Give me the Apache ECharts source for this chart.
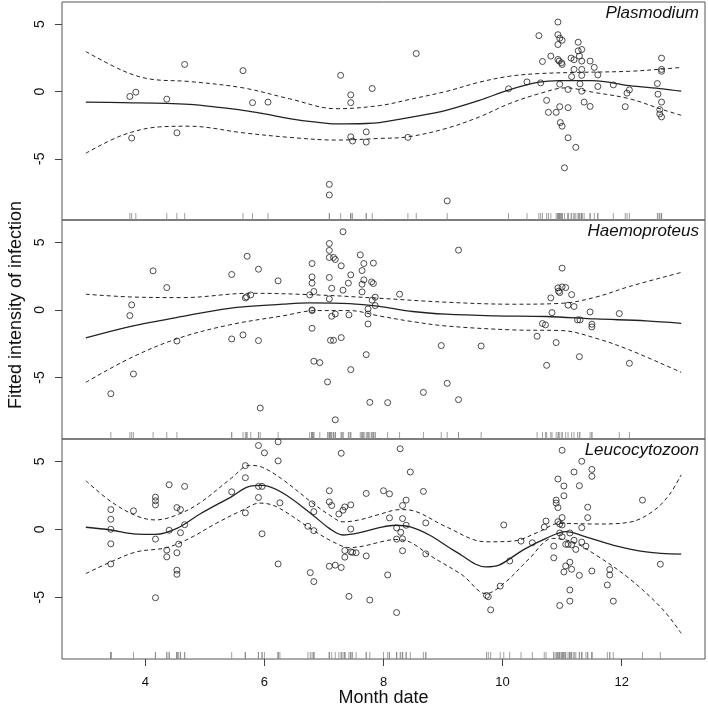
<!DOCTYPE html>
<html>
<head>
<meta charset="utf-8">
<script src="https://cdn.jsdelivr.net/npm/echarts@6/dist/echarts.min.js"></script>
<style>
html,body{margin:0;padding:0;background:#fff;}
#chart{width:708px;height:708px;}
</style>
</head>
<body>
<div id="chart"></div>
<script>
// ---------- data ----------
const panelNames = ['Plasmodium', 'Haemoproteus', 'Leucocytozoon'];
const xTicks = [4, 6, 8, 10, 12];
const yTicks = [-5, 0, 5];
const xLabel = 'Month date';
const yLabel = 'Fitted intensity of infection';

const plasPoints = [[3.74,-0.37],[3.84,-0.05],[3.77,-3.46],[4.36,-0.57],[4.66,2.01],[4.53,-3.07],[5.64,1.55],[5.80,-0.83],[6.06,-0.79],[7.09,-6.9],[7.09,-7.69],[7.28,1.2],[7.45,-0.25],[7.45,-0.83],[7.45,-3.37],[7.48,-3.68],[7.71,-3.0],[7.71,-3.76],[7.81,0.22],
[8.41,-3.41],[8.55,2.82],[9.07,-8.13],[10.10,0.2],[10.41,0.71],[10.61,4.15],[10.64,0.64],[10.67,2.23],[10.74,-0.66],[10.77,-1.55],[10.81,2.63],[10.90,-1.55],[10.93,5.16],[10.93,4.22],[10.93,3.49],[10.93,2.38],[10.95,2.26],[10.96,3.96],[11.0,3.81],[10.99,2.14],[11.0,2.01],[10.96,0.54],[10.96,-1.13],[10.97,-2.31],[11.0,-2.58],[11.04,-5.67],[11.10,0.15],[11.10,-1.2],[11.10,-3.44],[11.15,2.48],[11.20,2.36],[11.20,1.64],[11.16,1.1],[11.23,-4.15],[11.27,3.66],[11.27,3.02],[11.33,3.12],[11.29,2.63],[11.33,2.26],[11.33,1.64],[11.33,1.2],[11.30,0.57],[11.33,0.02],[11.37,-0.79],[11.47,-1.11],[11.47,2.26],[11.54,1.79],[11.60,1.23],[11.60,0.37],[11.86,0.49],[12.06,-1.13],[12.09,-0.12],[12.13,0.12],[12.60,0.59],[12.61,-0.2],[12.64,-1.35],[12.64,-1.67],[12.67,-1.89],[12.67,-0.79],[12.67,1.64],[12.67,1.5],[12.67,2.48]];
const plasFit = [[3.0,-0.79],[3.62,-0.83],[4.35,-0.88],[4.74,-0.96],[5.19,-1.16],[5.64,-1.40],[6.03,-1.69],[6.42,-2.01],[6.87,-2.28],[7.2,-2.41],[7.71,-2.38],[7.93,-2.31],[8.49,-1.89],[9.05,-1.4],[9.61,-0.66],[10.11,0.12],[10.61,0.69],[10.95,0.81],[11.51,0.81],[12.13,0.44],[12.69,0.2],[13.0,0.02]];
const plasUpper = [[3.0,2.97],[3.62,1.55],[4.07,0.93],[4.74,0.74],[5.64,0.27],[6.42,-0.54],[7.2,-1.28],[7.93,-1.05],[8.49,-0.54],[9.05,0.0],[9.61,0.69],[10.11,1.13],[10.61,1.33],[11.29,1.42],[12.13,1.5],[12.69,1.67],[13.0,1.79]];
const plasLower = [[3.0,-4.59],[3.62,-3.24],[4.24,-2.63],[4.74,-2.58],[5.64,-3.07],[6.42,-3.41],[7.2,-3.61],[7.93,-3.49],[8.41,-3.37],[9.05,-2.75],[9.61,-1.89],[10.11,-0.91],[10.61,-0.17],[11.06,0.27],[11.51,-0.05],[12.13,-0.54],[12.69,-1.35],[13.0,-1.77]];

const haemPoints = [[3.42,-6.2],[3.74,-0.42],[3.77,0.37],[3.80,-4.74],[4.13,2.89],[4.36,1.65],[4.53,-2.3],[5.45,2.62],[5.45,-2.15],[5.64,-1.85],[5.68,0.89],[5.70,0.96],[5.71,3.97],[5.77,1.11],[5.90,3.01],[5.90,-2.27],[5.93,-7.26],[6.23,2.15],[6.76,1.11],[6.80,3.43],[6.80,2.44],[6.80,1.98],[6.80,0.0],[6.80,-0.05],[6.80,-1.36],[6.83,1.36],[6.83,-3.8],[6.93,-3.9],[7.06,-5.33],[7.09,4.91],[7.09,4.4],[7.09,3.88],[7.09,2.4],[7.09,0.81],[7.13,-0.47],[7.13,1.6],[7.11,-2.25],[7.16,-2.25],[7.16,3.88],[7.19,3.73],[7.19,-0.3],[7.19,-8.13],[7.29,3.26],[7.29,-2.05],[7.32,5.78],[7.32,1.46],[7.41,1.98],[7.42,-0.37],[7.45,2.59],[7.45,-4.42],[7.61,4.07],[7.64,2.91],[7.64,1.9],[7.64,1.33],[7.67,3.43],[7.67,2.22],[7.71,-3.31],[7.74,0.07],[7.74,-0.3],[7.74,-1.04],[7.77,-6.84],[7.80,2.07],[7.83,3.46],[7.83,1.95],[7.81,0.72],[7.86,0.94],[7.86,0.32],
[8.07,-6.86],[8.27,1.16],[8.67,-6.1],[8.97,-2.64],[9.07,-5.43],[9.26,4.42],[9.26,-6.64],[9.64,-2.67],[10.58,-1.95],[10.67,-1.01],[10.72,-1.11],[10.74,-4.1],[10.81,0.89],[10.83,-0.2],[10.90,-2.42],[10.93,1.63],[10.94,1.38],[10.96,1.28],[11.0,3.09],[11.0,1.7],[11.06,1.65],[11.10,0.35],[11.16,1.13],[11.20,0.25],[11.26,-0.74],[11.30,-0.74],[11.29,-3.46],[11.47,-0.15],[11.50,-1.06],[11.50,-1.26],[11.96,-0.27],[12.13,-3.95]];
const haemFit = [[3.0,-2.07],[3.74,-1.23],[4.52,-0.57],[5.41,0.12],[6.31,0.42],[6.76,0.52],[7.43,0.47],[7.93,0.26],[8.49,-0.12],[9.05,-0.32],[9.89,-0.44],[10.73,-0.49],[11.57,-0.67],[12.41,-0.81],[13.0,-0.99]];
const haemUpper = [[3.0,1.16],[3.74,0.96],[4.63,0.91],[5.75,1.23],[6.87,1.11],[7.93,0.86],[9.05,0.57],[10.17,0.42],[11.0,0.49],[11.57,0.95],[12.13,1.73],[13.0,2.77]];
const haemLower = [[3.0,-5.36],[3.74,-3.58],[4.52,-2.15],[5.41,-1.11],[6.31,-0.44],[6.87,-0.05],[7.43,-0.05],[7.93,-0.45],[8.49,-0.87],[9.05,-1.19],[10.17,-1.48],[11.0,-1.53],[11.57,-2.1],[12.13,-2.96],[13.0,-4.62]];

const leucPoints = [[3.42,1.45],[3.42,0.74],[3.42,0.0],[3.42,-1.07],[3.42,-2.55],[3.80,1.36],[4.17,2.37],[4.17,2.1],[4.17,1.8],[4.17,-0.72],[4.17,-5.04],[4.36,-1.53],[4.36,-2.03],[4.40,3.28],[4.40,-0.07],[4.53,1.6],[4.53,-1.73],[4.53,-3.01],[4.53,-3.31],[4.56,-1.09],[4.59,1.45],[4.59,-0.25],[4.66,3.16],[4.66,0.34],[5.45,2.76],[5.68,4.69],[5.68,3.8],[5.68,1.21],[5.90,6.17],[5.90,3.16],[5.90,2.34],[5.96,3.16],[6.0,5.63],[5.96,-0.33],[6.23,6.44],[6.23,5.04],[6.23,-2.55],[6.26,1.95],[6.73,0.22],[6.77,-3.19],[6.80,1.87],[6.83,1.3],[6.83,-0.1],[6.83,-3.85],[7.09,2.84],[7.09,2.02],[7.13,1.75],[7.09,-2.72],[7.19,-2.64],[7.25,1.13],[7.29,5.6],[7.29,-2.81],[7.32,1.41],[7.35,1.65],[7.35,-1.56],[7.35,-2.05],[7.42,-4.94],[7.45,1.8],[7.45,0.02],[7.45,-1.66],[7.48,-1.7],[7.54,-1.73],[7.71,2.64],[7.71,-1.96],[7.77,-5.21],
[8.0,2.84],[8.10,2.61],[8.07,-3.36],[8.10,0.84],[8.22,0.1],[8.22,-0.72],[8.22,-6.13],[8.28,5.93],[8.29,-0.22],[8.32,1.75],[8.32,0.79],[8.32,-0.7],[8.32,-1.58],[8.38,2.15],[8.38,0.3],[8.45,4.22],[8.67,2.79],[8.71,0.47],[8.71,-1.81],[9.73,-4.87],[9.76,-4.96],[9.80,-5.93],[9.96,-4.18],[10.02,0.32],[10.12,-2.33],[10.31,-0.87],[10.50,-0.99],[10.70,0.17],[10.73,0.61],[10.86,-1.24],[10.86,-2.1],[10.90,2.15],[10.90,1.93],[10.93,3.7],[10.93,1.6],[10.93,0.56],[10.96,-5.61],[10.96,-0.27],[10.96,0.39],[11.0,5.82],[11.0,0.86],[11.0,0.32],[11.0,-0.55],[11.03,3.19],[11.03,2.47],[11.03,-3.14],[11.06,-1.11],[11.06,-2.7],[11.10,-1.11],[11.13,-0.27],[11.13,-2.42],[11.13,-4.47],[11.13,-5.29],[11.16,-1.14],[11.16,-2.94],[11.20,4.22],[11.20,-0.81],[11.23,-1.48],[11.29,3.21],[11.29,-3.39],[11.33,5.01],[11.33,0.12],[11.33,-0.94],[11.40,-1.24],[11.43,1.63],[11.43,0.86],[11.50,4.41],[11.50,3.9],[11.50,-3.07],[11.76,-4.1],[11.80,-2.96],[11.80,-3.36],[11.86,-5.29],[12.35,2.15],[12.65,-2.57]];
const leucFit = [[3.0,0.15],[3.42,-0.05],[3.85,-0.35],[4.17,-0.37],[4.53,0.07],[4.91,1.11],[5.45,2.41],[5.75,3.16],[5.97,3.23],[6.31,2.67],[6.81,1.06],[7.09,0.07],[7.32,-0.42],[7.6,-0.25],[7.93,0.12],[8.2,0.3],[8.45,0.18],[8.77,-0.42],[9.22,-1.66],[9.72,-2.77],[9.94,-2.64],[10.34,-1.53],[10.73,-0.67],[11.06,-0.17],[11.4,-0.55],[11.85,-1.16],[12.41,-1.66],[13.0,-1.83]];
const leucUpper = [[3.0,3.58],[3.42,2.05],[3.85,0.99],[4.17,0.69],[4.53,1.06],[4.91,1.93],[5.45,3.78],[5.75,4.71],[5.97,4.56],[6.31,3.65],[6.81,1.93],[7.09,1.06],[7.32,0.55],[7.6,0.7],[7.93,1.1],[8.27,1.45],[8.55,1.3],[9.05,0.19],[9.72,-0.92],[10.17,-0.87],[10.62,-0.17],[10.95,0.44],[11.57,0.39],[12.13,0.52],[12.52,1.31],[12.8,2.54],[13.0,4.02]];
const leucLower = [[3.0,-3.26],[3.42,-2.4],[3.85,-1.66],[4.35,-1.36],[4.74,-0.67],[5.19,0.44],[5.64,1.43],[5.92,1.93],[6.2,1.67],[6.81,-0.05],[7.15,-0.92],[7.43,-1.35],[7.7,-1.2],[7.93,-0.95],[8.2,-0.75],[8.45,-0.95],[8.77,-1.9],[9.33,-3.39],[9.72,-4.74],[10.05,-3.88],[10.45,-2.15],[10.84,-0.67],[11.17,-0.92],[11.57,-1.9],[12.13,-3.63],[12.68,-5.85],[13.0,-7.66]];

// ---------- layout / style ----------
const XMIN = 2.6, XMAX = 13.4, YMIN = -9.55, YMAX = 6.65;
const gridTops = [2, 220, 439];
const gridHeights = [218, 219, 220];
const FONT = 'Liberation Sans, Arial, sans-serif';
const panels = [
  {points: plasPoints, fit: plasFit, upper: plasUpper, lower: plasLower},
  {points: haemPoints, fit: haemFit, upper: haemUpper, lower: haemLower},
  {points: leucPoints, fit: leucFit, upper: leucUpper, lower: leucLower}
];

const grids = [], xAxes = [], yAxes = [], series = [], titles = [];
panels.forEach((p, i) => {
  grids.push({left: 62, width: 643, top: gridTops[i], height: gridHeights[i],
    show: true, borderColor: '#555', borderWidth: 1, backgroundColor: 'transparent'});
  const bottom = i === 2;
  xAxes.push({type: 'value', gridIndex: i, min: XMIN, max: XMAX, position: 'bottom',
    splitLine: {show: false}, axisLine: {show: false, onZero: false},
    axisTick: {show: bottom, length: 7, customValues: xTicks, lineStyle: {color: '#444', width: 1}},
    axisLabel: {show: bottom, customValues: xTicks, fontSize: 13, color: '#111', margin: 17, fontFamily: FONT}});
  yAxes.push({type: 'value', gridIndex: i, min: YMIN, max: YMAX, position: 'left',
    splitLine: {show: false}, axisLine: {show: false, onZero: false},
    axisTick: {show: true, length: 7, customValues: yTicks, lineStyle: {color: '#444', width: 1}},
    axisLabel: {show: true, customValues: yTicks, rotate: 90, fontSize: 14, color: '#111', margin: 15, fontFamily: FONT}});
  titles.push({text: panelNames[i], right: 9, top: gridTops[i] + 3, padding: 0,
    textStyle: {fontSize: 17, fontStyle: 'italic', fontWeight: 'normal', color: '#111', fontFamily: FONT}});

  const lineBase = {type: 'line', xAxisIndex: i, yAxisIndex: i, showSymbol: false, symbol: 'none',
    smooth: 0.35, silent: true, z: 3};
  series.push(Object.assign({}, lineBase, {data: p.fit, lineStyle: {color: '#222', width: 1.3}}));
  series.push(Object.assign({}, lineBase, {data: p.upper, lineStyle: {color: '#222', width: 1, type: [4, 3]}}));
  series.push(Object.assign({}, lineBase, {data: p.lower, lineStyle: {color: '#222', width: 1, type: [4, 3]}}));
  series.push({type: 'scatter', xAxisIndex: i, yAxisIndex: i, data: p.points, symbol: 'circle', symbolSize: 6,
    itemStyle: {color: 'rgba(0,0,0,0)', borderColor: '#222', borderWidth: 1}, silent: true, z: 4});
  series.push({type: 'scatter', xAxisIndex: i, yAxisIndex: i, clip: false,
    data: p.points.map(d => [d[0], YMIN]), symbol: 'rect', symbolSize: [1, 7], symbolOffset: [0, -3.5],
    itemStyle: {color: '#888'}, silent: true, z: 2});
});

const chart = echarts.init(document.getElementById('chart'), null, {renderer: 'canvas'});
chart.setOption({
  animation: false,
  backgroundColor: '#fff',
  title: titles,
  grid: grids,
  xAxis: xAxes,
  yAxis: yAxes,
  series: series,
  graphic: [
    {type: 'text', x: 383.5, y: 698, style: {text: xLabel, font: '18px ' + FONT, fill: '#111', textAlign: 'center', textVerticalAlign: 'middle'}},
    {type: 'text', x: 16, y: 305, rotation: Math.PI / 2, style: {text: yLabel, font: '18px ' + FONT, fill: '#111', textAlign: 'center', textVerticalAlign: 'middle'}}
  ]
});
</script>
</body>
</html>
